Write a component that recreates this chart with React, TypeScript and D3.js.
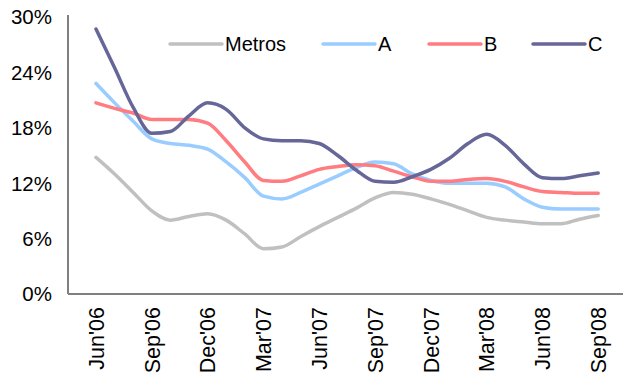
import React from "react";
import * as d3 from "d3";

const months = [
  "Jun'06", "Jul'06", "Aug'06", "Sep'06", "Oct'06", "Nov'06", "Dec'06",
  "Jan'07", "Feb'07", "Mar'07", "Apr'07", "May'07", "Jun'07", "Jul'07",
  "Aug'07", "Sep'07", "Oct'07", "Nov'07", "Dec'07", "Jan'08", "Feb'08",
  "Mar'08", "Apr'08", "May'08", "Jun'08", "Jul'08", "Aug'08", "Sep'08",
];

const metros = [
  14.8, 13.0, 11.0, 9.0, 8.0, 8.4, 8.7, 8.0, 6.5, 4.9, 5.1, 6.2, 7.3, 8.3,
  9.3, 10.4, 11.0, 10.8, 10.3, 9.7, 9.0, 8.3, 8.0, 7.8, 7.6, 7.6, 8.1, 8.5,
];
const seriesA = [
  22.8, 20.7, 18.7, 16.8, 16.3, 16.1, 15.7, 14.3, 12.6, 10.6, 10.3, 11.0, 11.9, 12.8,
  13.7, 14.3, 14.1, 13.0, 12.3, 12.0, 12.0, 12.0, 11.6, 10.3, 9.4, 9.2, 9.2, 9.2,
];
const seriesB = [
  20.7, 20.1, 19.6, 18.9, 18.9, 18.9, 18.5, 16.6, 14.3, 12.3, 12.2, 12.8, 13.5, 13.8,
  14.0, 13.9, 13.3, 12.7, 12.2, 12.2, 12.4, 12.5, 12.2, 11.6, 11.1, 11.0, 10.9, 10.9,
];
const seriesC = [
  28.7, 24.5, 20.2, 17.4, 17.6, 19.3, 20.7, 20.0, 18.0, 16.8, 16.6, 16.6, 16.3, 15.0,
  13.4, 12.2, 12.1, 12.7, 13.5, 14.7, 16.3, 17.3, 16.1, 14.1, 12.6, 12.5, 12.8, 13.1,
];

const yTicks = [0, 6, 12, 18, 24, 30];
const labelEvery = 3;

const series = [
  { name: "Metros", values: metros, color: "#c0c0c0" },
  { name: "A", values: seriesA, color: "#99ccff" },
  { name: "B", values: seriesB, color: "#ff7c80" },
  { name: "C", values: seriesC, color: "#666699" },
];

const W = 623;
const H = 378;
const axisX = 68;
const axisY = 294;
const font = "'Liberation Sans', Arial, sans-serif";

export default function App() {
  const x = d3.scaleLinear().domain([0, months.length - 1]).range([96, 598.2]);
  const y = d3.scaleLinear().domain([0, 30]).range([axisY, 17]);
  const line = d3
    .line<number>()
    .x((_, i) => x(i))
    .y((d) => y(d))
    .curve(d3.curveMonotoneX);

  const legendX = [170, 323, 429, 533];

  return (
    <svg
      width={W}
      height={H}
      style={{ position: "absolute", left: 0, top: 0, background: "#fff" }}
      fontFamily={font}
    >
      {series.map((s) => (
        <path
          key={s.name}
          d={line(s.values) ?? ""}
          fill="none"
          stroke={s.color}
          strokeWidth={3.5}
          strokeLinejoin="round"
          strokeLinecap="round"
        />
      ))}

      <line x1={axisX} x2={axisX} y1={15} y2={axisY} stroke="#808080" strokeWidth={2} />
      <line x1={axisX} x2={W} y1={axisY} y2={axisY} stroke="#808080" strokeWidth={2} />

      {yTicks.map((t) => (
        <text
          key={t}
          x={52}
          y={y(t)}
          dy="0.36em"
          textAnchor="end"
          fontSize={20.5}
          fill="#000"
        >
          {`${t}%`}
        </text>
      ))}

      {months.map((m, i) =>
        i % labelEvery === 0 ? (
          <text
            key={m}
            transform={`translate(${x(i)},307) rotate(-90)`}
            dy="0.36em"
            textAnchor="end"
            fontSize={21.5}
            fill="#000"
          >
            {m}
          </text>
        ) : null
      )}

      {series.map((s, i) => (
        <g key={s.name} transform={`translate(${legendX[i]},44)`}>
          <line x1={0} x2={52} y1={0} y2={0} stroke={s.color} strokeWidth={3.5} strokeLinecap="round" />
          <text x={55} y={0} dy="0.36em" fontSize={20} fill="#000">
            {s.name}
          </text>
        </g>
      ))}
    </svg>
  );
}
